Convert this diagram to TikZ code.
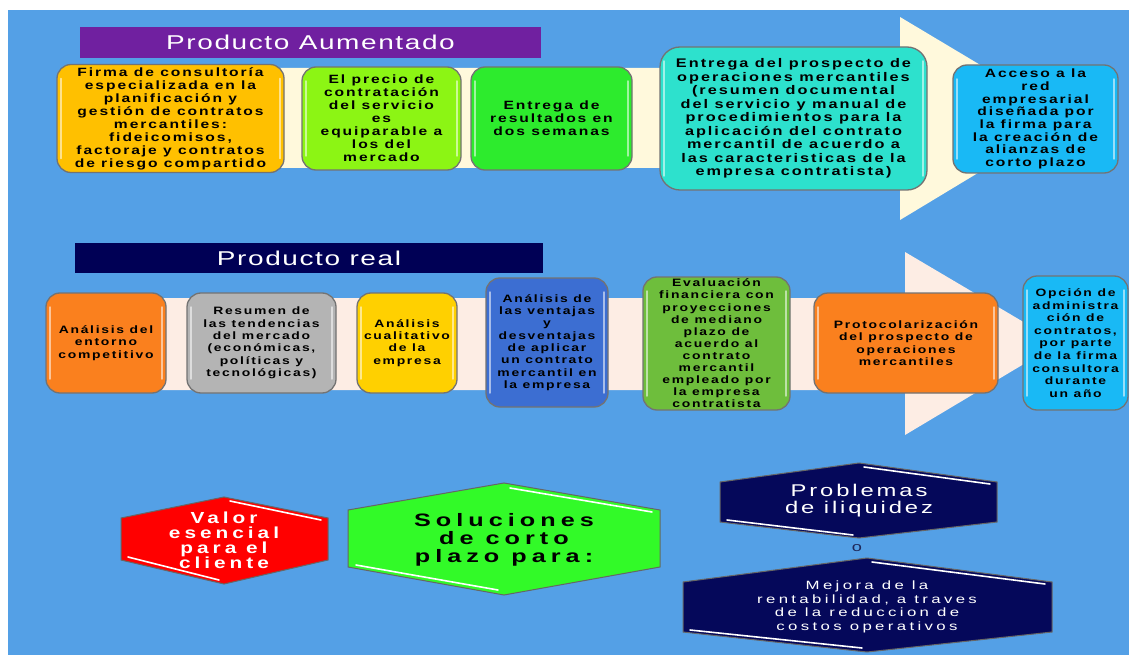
\documentclass[tikz,border=0pt]{standalone}
\usepackage{fontspec}
\setmainfont{Liberation Sans}
\newfontfamily\boxfont[FakeStretch=1.3,LetterSpace=16]{Liberation Sans}
\newfontfamily\titlefont[FakeStretch=1.4,LetterSpace=8]{Liberation Sans}
\newfontfamily\hexfont[FakeStretch=1.4,LetterSpace=28]{Liberation Sans}
\newfontfamily\redfont[FakeStretch=1.3,LetterSpace=25]{Liberation Sans}
\newfontfamily\probfont[FakeStretch=1.4,LetterSpace=17]{Liberation Sans}
\definecolor{bg}{RGB}{84,160,230}
\definecolor{purplebar}{RGB}{112,32,160}
\definecolor{navybar}{RGB}{0,0,85}
\definecolor{creamA}{RGB}{255,249,220}
\definecolor{creamB}{RGB}{253,237,228}
\definecolor{cGold}{RGB}{255,192,0}
\definecolor{cLime}{RGB}{140,245,20}
\definecolor{cGreen}{RGB}{45,235,45}
\definecolor{cTurq}{RGB}{45,225,205}
\definecolor{cCyan}{RGB}{25,185,245}
\definecolor{cOrange}{RGB}{250,128,30}
\definecolor{cGray}{RGB}{180,180,180}
\definecolor{cYellow}{RGB}{255,208,0}
\definecolor{cBlue}{RGB}{60,110,210}
\definecolor{cLeaf}{RGB}{110,190,60}
\definecolor{hexRed}{RGB}{255,0,0}
\definecolor{hexGreen}{RGB}{50,250,40}
\definecolor{hexNavy}{RGB}{5,8,90}
\definecolor{ocol}{RGB}{30,40,90}
\tikzset{
  pbox/.style={rounded corners=14pt, draw=black!55, line width=1.3pt, align=center,
    inner sep=0pt, text=black,
    font=\boxfont\bfseries\fontsize{12}{13}\selectfont,
    path picture={
      \draw[white, opacity=.55, line width=1.5pt, line cap=round]
        ([xshift=4pt,yshift=-14pt]path picture bounding box.north west) --
        ([xshift=4pt,yshift=14pt]path picture bounding box.south west);
      \draw[white, opacity=.55, line width=1.5pt, line cap=round]
        ([xshift=-4pt,yshift=-14pt]path picture bounding box.north east) --
        ([xshift=-4pt,yshift=14pt]path picture bounding box.south east);
    }},
  lowbox/.style={pbox, font=\boxfont\bfseries\fontsize{10.7}{12.3}\selectfont},
  titlebar/.style={inner sep=0pt, text=white, font=\titlefont\fontsize{20}{22}\selectfont},
  hexshape/.style={draw=black!60, line width=1pt},
  hexhi/.style={draw=white, line width=1.6pt, line cap=round},
  hextext/.style={align=center, inner sep=0pt}
}
\begin{document}
\begin{tikzpicture}[x=1pt,y=-1pt]
\useasboundingbox (0,0) rectangle (1129,655);
\fill[white] (0,0) rectangle (1129,655);
\fill[bg] (8,10) rectangle (1129,655);

% arrows
\fill[creamA] (70,68) -- (900,68) -- (900,17) -- (1069,118) -- (900,220) -- (900,168) -- (70,168) -- cycle;
\fill[creamB] (60,298) -- (905,298) -- (905,252) -- (1059,343) -- (905,435) -- (905,390) -- (60,390) -- cycle;

% title bars
\node[titlebar, fill=purplebar, minimum width=461pt, minimum height=31pt] (aum) at (310.5,42.5) {Producto Aumentado};
\node[titlebar, fill=navybar, minimum width=468pt, minimum height=30pt] (real) at (309,258) {Producto real};

% top row
\node[pbox, fill=cGold, minimum width=227pt, minimum height=108pt] (t1) at (170.5,118.5)
  {Firma de consultoría\\especializada en la\\planificación y\\gestión de contratos\\mercantiles:\\fideicomisos,\\factoraje y contratos\\de riesgo compartido};
\node[pbox, fill=cLime, minimum width=159pt, minimum height=103pt] (t2) at (381.5,118.5)
  {El precio de\\contratación\\del servicio\\es\\equiparable a\\los del\\mercado};
\node[pbox, fill=cGreen, minimum width=161pt, minimum height=103pt] (t3) at (551.5,118.5)
  {Entrega de\\resultados en\\dos semanas};
\node[pbox, fill=cTurq, minimum width=267pt, minimum height=143pt, rounded corners=20pt,
  font=\boxfont\bfseries\fontsize{12.5}{13.5}\selectfont] (t4) at (793.5,118.5)
  {Entrega del prospecto de\\operaciones mercantiles\\(resumen documental\\del servicio y manual de\\procedimientos para la\\aplicación del contrato\\mercantil de acuerdo a\\las caracteristicas de la\\empresa contratista)};
\node[pbox, fill=cCyan, minimum width=165pt, minimum height=108pt, font=\boxfont\bfseries\fontsize{12}{12.7}\selectfont] (t5) at (1035.5,119)
  {Acceso a la\\red\\empresarial\\diseñada por\\la firma para\\la creación de\\alianzas de\\corto plazo};

% bottom row
\node[lowbox, fill=cOrange, minimum width=120pt, minimum height=100pt] (b1) at (106,343)
  {Análisis del\\entorno\\competitivo};
\node[lowbox, fill=cGray, minimum width=149pt, minimum height=100pt] (b2) at (261.5,343)
  {Resumen de\\las tendencias\\del mercado\\(económicas,\\políticas y\\tecnológicas)};
\node[lowbox, fill=cYellow, minimum width=100pt, minimum height=100pt] (b3) at (407,343)
  {Análisis\\cualitativo\\de la\\empresa};
\node[lowbox, fill=cBlue, minimum width=122pt, minimum height=129pt] (b4) at (547,342.5)
  {Análisis de\\las ventajas\\y\\desventajas\\de aplicar\\un contrato\\mercantil en\\la empresa};
\node[lowbox, fill=cLeaf, minimum width=147pt, minimum height=133pt, font=\boxfont\bfseries\fontsize{10.7}{12.1}\selectfont] (b5) at (716.5,343.5)
  {Evaluación\\financiera con\\proyecciones\\de mediano\\plazo de\\acuerdo al\\contrato\\mercantil\\empleado por\\la empresa\\contratista};
\node[lowbox, fill=cOrange, minimum width=184pt, minimum height=100pt] (b6) at (906,343)
  {Protocolarización\\del prospecto de\\operaciones\\mercantiles};
\node[lowbox, fill=cCyan, minimum width=105pt, minimum height=134pt, font=\boxfont\bfseries\fontsize{10.7}{12.6}\selectfont] (b7) at (1075.5,343)
  {Opción de\\administra\\ción de\\contratos,\\por parte\\de la firma\\consultora\\durante\\un año};

% hexagons
\draw[hexshape, fill=hexRed] (121,518) -- (224,497) -- (328,518) -- (328,560) -- (224,584) -- (121,560) -- cycle;
\draw[hexhi] (230,501) -- (321,520);
\draw[hexhi] (128,557) -- (219,580);
\node[hextext, text=white, font=\redfont\bfseries\fontsize{16}{15}\selectfont] (valor) at (224,540)
  {Valor\\esencial\\para el\\cliente};

\draw[hexshape, fill=hexGreen] (348,510) -- (504,483) -- (660,510) -- (660,567) -- (504,595) -- (348,567) -- cycle;
\draw[hexhi] (510,488) -- (652,512);
\draw[hexhi] (356,565) -- (498,590);
\node[hextext, text=black, font=\hexfont\bfseries\fontsize{18}{18}\selectfont] (sol) at (504,540)
  {Soluciones\\de corto\\plazo para:};

\draw[hexshape, fill=hexNavy] (720,482) -- (859,463) -- (997,482) -- (997,522) -- (859,538) -- (720,522) -- cycle;
\draw[hexhi] (864,467) -- (990,484);
\draw[hexhi] (727,520) -- (853,535);
\node[hextext, text=white, font=\probfont\fontsize{17}{17}\selectfont] (prob) at (859,501)
  {Problemas\\de iliquidez};

\node[inner sep=0pt, text=ocol, font=\probfont\fontsize{13}{13}\selectfont] (o) at (857,548) {o};

\draw[hexshape, fill=hexNavy] (683,582) -- (867,558) -- (1052,582) -- (1052,632) -- (867,652) -- (683,632) -- cycle;
\draw[hexhi] (872,562) -- (1045,584);
\draw[hexhi] (690,630) -- (862,648);
\node[hextext, text=white, font=\hexfont\fontsize{12}{13.5}\selectfont] (mejora) at (867,607)
  {Mejora de la\\rentabilidad, a traves\\de la reduccion de\\costos operativos};
\end{tikzpicture}
\end{document}
